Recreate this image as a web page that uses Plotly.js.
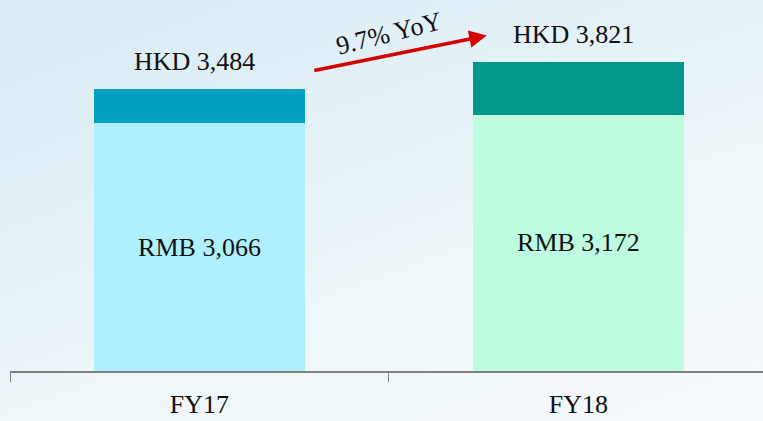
<!DOCTYPE html>
<html><head><meta charset="utf-8">
<script src="https://cdn.plot.ly/plotly-3.0.1.min.js"></script>
<style>
html,body{margin:0;padding:0;}
body{width:763px;height:421px;background:linear-gradient(160deg,#d9ebf3 0%,#e4f1f7 35%,#edf6f9 60%,#f6fafc 100%);}
#chart{width:763px;height:421px;}
</style></head>
<body><div id="chart"></div>
<script>
const categories = ["FY17", "FY18"];
const rmbValues = [3066, 3172];
const hkdValues = [3484, 3821];
const rmbLabels = ["RMB 3,066", "RMB 3,172"];
const hkdLabels = ["HKD 3,484", "HKD 3,821"];
const growthLabel = "9.7% YoY";

const font = "Liberation Serif, Times New Roman, serif";
const topPart = hkdValues.map((v, i) => v - rmbValues[i]);

const traces = [
  {type: "bar", x: categories, y: rmbValues, text: rmbLabels, textposition: "inside",
   insidetextanchor: "middle", textfont: {family: font, size: 26, color: "#111"},
   marker: {color: ["#b0f0fe", "#bdfcde"]}, width: 0.557, hoverinfo: "skip"},
  {type: "bar", x: categories, y: topPart,
   marker: {color: ["#00a0c0", "#00968a"]}, width: 0.557, hoverinfo: "skip"}
];

const annotations = categories.map((c, i) => ({
  x: c, y: hkdValues[i], xref: "x", yref: "y", text: hkdLabels[i], showarrow: false,
  yanchor: "bottom", yshift: 11, xshift: -5, font: {family: font, size: 26, color: "#111"}
}));
annotations.push({
  xref: "x", yref: "y", x: 0.758, y: 4150, ax: 0.299, ay: 3713, axref: "x", ayref: "y",
  showarrow: true, arrowhead: 2, arrowsize: 1, arrowwidth: 3.5, arrowcolor: "#d40000", text: ""
});
annotations.push({
  xref: "x", yref: "y", x: 0.5, y: 4175, text: growthLabel, showarrow: false,
  textangle: -14, xshift: 0, font: {family: font, size: 26, color: "#111"}
});

const layout = {
  width: 763, height: 421, barmode: "stack", showlegend: false,
  paper_bgcolor: "rgba(0,0,0,0)", plot_bgcolor: "rgba(0,0,0,0)",
  margin: {l: 10, r: 0, t: 0, b: 50},
  xaxis: {type: "category", range: [-0.5, 1.487], showline: true, linecolor: "#808080", linewidth: 1.5,
    ticks: "outside", tickson: "boundaries", ticklen: 9, tickcolor: "#808080",
    tickfont: {family: font, size: 26, color: "#111"}, ticklabelstandoff: 9, showgrid: false, zeroline: false},
  yaxis: {range: [0, 4590], visible: false, showgrid: false, zeroline: false},
  annotations: annotations
};
Plotly.newPlot("chart", traces, layout, {displayModeBar: false, staticPlot: true});
</script></body></html>
